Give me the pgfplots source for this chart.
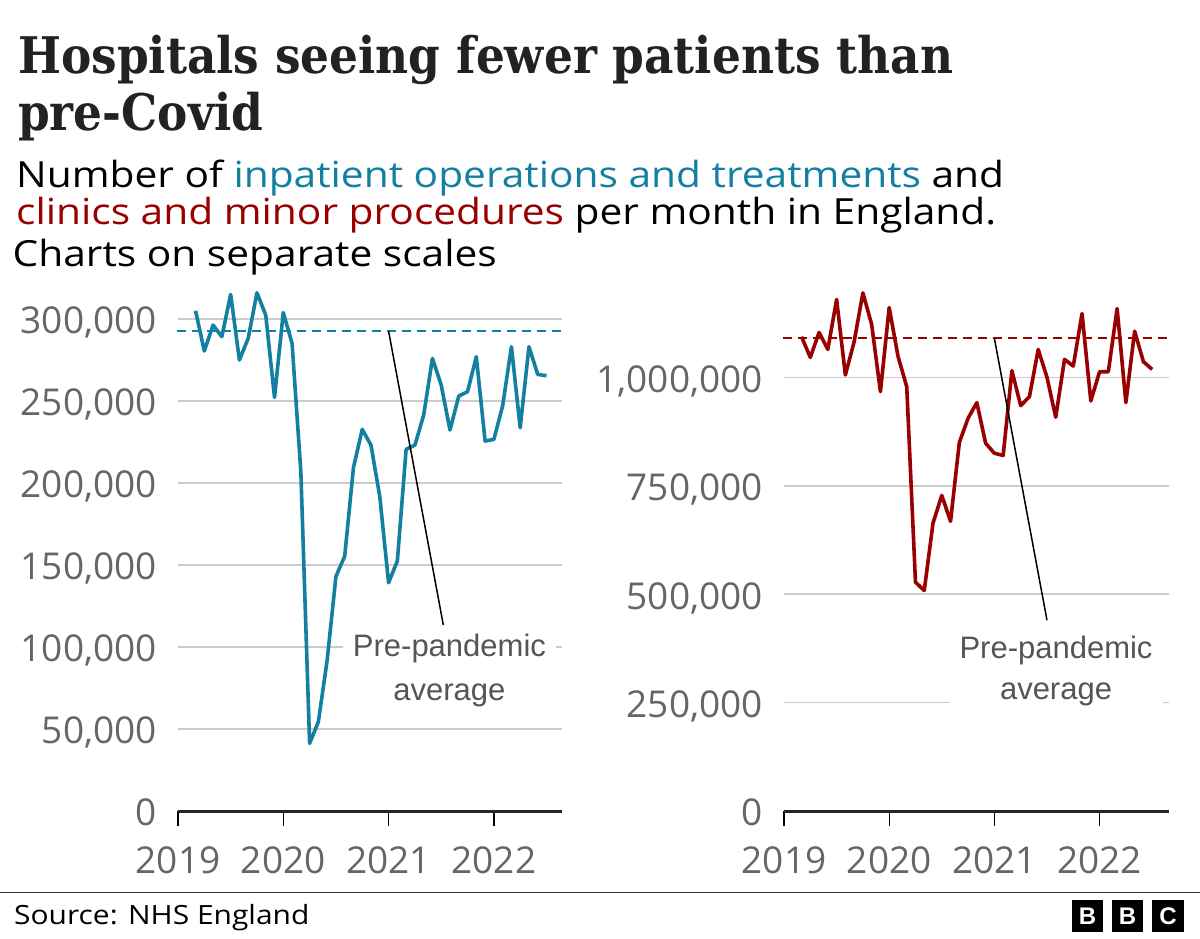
\documentclass[border=0pt]{standalone}
\usepackage{fontspec}
\setmainfont{Open Sans}
\newfontfamily\titlefont[FakeStretch=0.9]{DejaVu Serif}
\newfontfamily\subfont[FakeStretch=1.13]{Open Sans}
\newfontfamily\annfont{Liberation Sans}
\usepackage{pgfplots}
\pgfplotsset{compat=1.18}
\definecolor{bbcteal}{HTML}{1380A1}
\definecolor{bbcred}{HTML}{990000}
\definecolor{ticklab}{HTML}{666666}
\definecolor{gridc}{HTML}{CCCCCC}
\definecolor{anntext}{HTML}{555555}
\definecolor{titlec}{HTML}{222222}

\pgfplotstableread{
x v
2019.1667 305000
2019.2500 280500
2019.3333 296300
2019.4167 289200
2019.5000 315000
2019.5833 275000
2019.6667 288200
2019.7500 316000
2019.8333 302400
2019.9167 252200
2020.0000 303900
2020.0833 285200
2020.1667 207000
2020.2500 41200
2020.3333 54400
2020.4167 92000
2020.5000 143000
2020.5833 155400
2020.6667 209500
2020.7500 232700
2020.8333 223000
2020.9167 191600
2021.0000 139200
2021.0833 152400
2021.1667 220500
2021.2500 223100
2021.3333 241400
2021.4167 276000
2021.5000 259700
2021.5833 232300
2021.6667 253000
2021.7500 255700
2021.8333 277000
2021.9167 225600
2022.0000 226600
2022.0833 247000
2022.1667 283100
2022.2500 233700
2022.3333 283100
2022.4167 266200
2022.5000 265400
}\inpatient

\pgfplotstableread{
x v
2019.1667 1093600
2019.2500 1046000
2019.3333 1103500
2019.4167 1064400
2019.5000 1179500
2019.5833 1005400
2019.6667 1082000
2019.7500 1194800
2019.8333 1122000
2019.9167 967000
2020.0000 1161000
2020.0833 1049000
2020.1667 978500
2020.2500 527600
2020.3333 508400
2020.4167 664000
2020.5000 727800
2020.5833 667900
2020.6667 849700
2020.7500 905700
2020.8333 941700
2020.9167 848000
2021.0000 825000
2021.0833 819800
2021.1667 1015300
2021.2500 934800
2021.3333 955500
2021.4167 1064400
2021.5000 1000000
2021.5833 908000
2021.6667 1041400
2021.7500 1026000
2021.8333 1147200
2021.9167 945500
2022.0000 1013000
2022.0833 1013000
2022.1667 1158700
2022.2500 941700
2022.3333 1106600
2022.4167 1036000
2022.5000 1018400
}\clinics

\pgfplotsset{
  bbcax/.style={
    scale only axis,
    anchor=south west,
    xmin=2019, ymin=0,
    clip=false,
    axis line style={draw=none},
    xtick={2019,2020,2021,2022},
    xticklabels={2019,2020,2021,2022},
    tick align=outside,
    xtick pos=bottom, ytick pos=left,
    major tick length=15pt,
    xtick style={black, line width=1.3pt},
    ytick style={draw=none},
    ymajorgrids,
    grid style={gridc, line width=1.5pt},
    yticklabel style={font=\fontsize{37}{37}\selectfont, text=ticklab, anchor=east, inner sep=0pt, text depth=0pt, xshift=-6pt, yshift=-1.5pt},
    xticklabel style={font=\fontsize{37}{37}\selectfont, text=ticklab, anchor=north, inner sep=0pt, text depth=0pt, yshift=-20.7pt},
    scaled y ticks=false,
  },
}
\tikzset{annlab/.style={fill=white, inner xsep=0pt, inner ysep=3pt, minimum width=213pt, anchor=base, text=anntext, font=\annfont\fontsize{31}{31}\selectfont}}

\begin{document}
\begin{tikzpicture}
\useasboundingbox (0pt,0pt) rectangle (1200pt,-938pt);

% Title and subtitle
\node[anchor=base west, inner sep=0pt, text=titlec] at (18pt,-73.3pt)
  {\titlefont\bfseries\fontsize{50.5}{57}\selectfont Hospitals seeing fewer patients than};
\node[anchor=base west, inner sep=0pt, text=titlec] at (18pt,-130pt)
  {\titlefont\bfseries\fontsize{50.5}{57}\selectfont pre-Covid};
\node[anchor=base west, inner sep=0pt] at (16pt,-187.7pt)
  {\subfont\fontsize{36}{40}\selectfont Number of \textcolor{bbcteal}{inpatient operations and treatments} and};
\node[anchor=base west, inner sep=0pt] at (16pt,-224pt)
  {\subfont\fontsize{36}{40}\selectfont \textcolor{bbcred}{clinics and minor procedures} per month in England.};
\node[anchor=base west, inner sep=0pt] at (12.5pt,-266pt)
  {\subfont\fontsize{36}{40}\selectfont Charts on separate scales};

% Left chart
\begin{axis}[bbcax,
  at={(178pt,-811pt)},
  width=384.3pt, height=524.8pt,
  xmax=2022.65, ymax=320000,
  ytick={0,50000,100000,150000,200000,250000,300000},
  yticklabels={0,{50,000},{100,000},{150,000},{200,000},{250,000},{300,000}},
]
\draw[line width=3pt, black!85] (axis cs:2019,0) -- (axis cs:2022.65,0);
\addplot[bbcteal, line width=2pt, dash pattern=on 9pt off 6pt] coordinates {(2018.986,292700) (2022.65,292700)};
\addplot[bbcteal, line width=3.6pt, line join=round] table[x=x,y=v] {\inpatient};
\draw[black, line width=1.5pt] (axis cs:2021.0,292700) -- (axis cs:2021.52,113400);
\node[annlab] at (axis cs:2021.578,67300) {average};
\node[annlab] at (axis cs:2021.578,94500) {Pre-pandemic};
\end{axis}

% Right chart
\begin{axis}[bbcax,
  at={(784pt,-811pt)},
  width=385pt, height=520.4pt,
  xmax=2022.66, ymax=1200000,
  ytick={0,250000,500000,750000,1000000},
  yticklabels={0,{250,000},{500,000},{750,000},{1,000,000}},
]
\draw[line width=3pt, black!85] (axis cs:2019,0) -- (axis cs:2022.66,0);
\addplot[bbcred, line width=2pt, dash pattern=on 9pt off 6pt] coordinates {(2018.986,1090000) (2022.66,1090000)};
\addplot[bbcred, line width=3.6pt, line join=round] table[x=x,y=v] {\clinics};
\draw[black, line width=1.5pt] (axis cs:2021.0,1090000) -- (axis cs:2021.5,440000);
\node[annlab] at (axis cs:2021.586,257500) {average};
\node[annlab] at (axis cs:2021.586,352000) {Pre-pandemic};
\end{axis}

% Footer
\draw[line width=1.5pt, black!80] (0pt,-892.7pt) -- (1200pt,-892.7pt);
\node[anchor=base west, inner sep=0pt] at (14pt,-924pt) {\subfont\fontsize{26.5}{30}\selectfont Source: NHS England};
\foreach \xx/\ll in {1071.7/B,1111.7/B,1152.3/C} {
  \fill[black] (\xx pt,-900pt) rectangle ++(31.7pt,-31.7pt);
  \node[text=white, inner sep=0pt, font=\annfont\bfseries\fontsize{24}{24}\selectfont] at (\xx pt+15.85pt,-915.85pt) {\ll};
}
\end{tikzpicture}
\end{document}
